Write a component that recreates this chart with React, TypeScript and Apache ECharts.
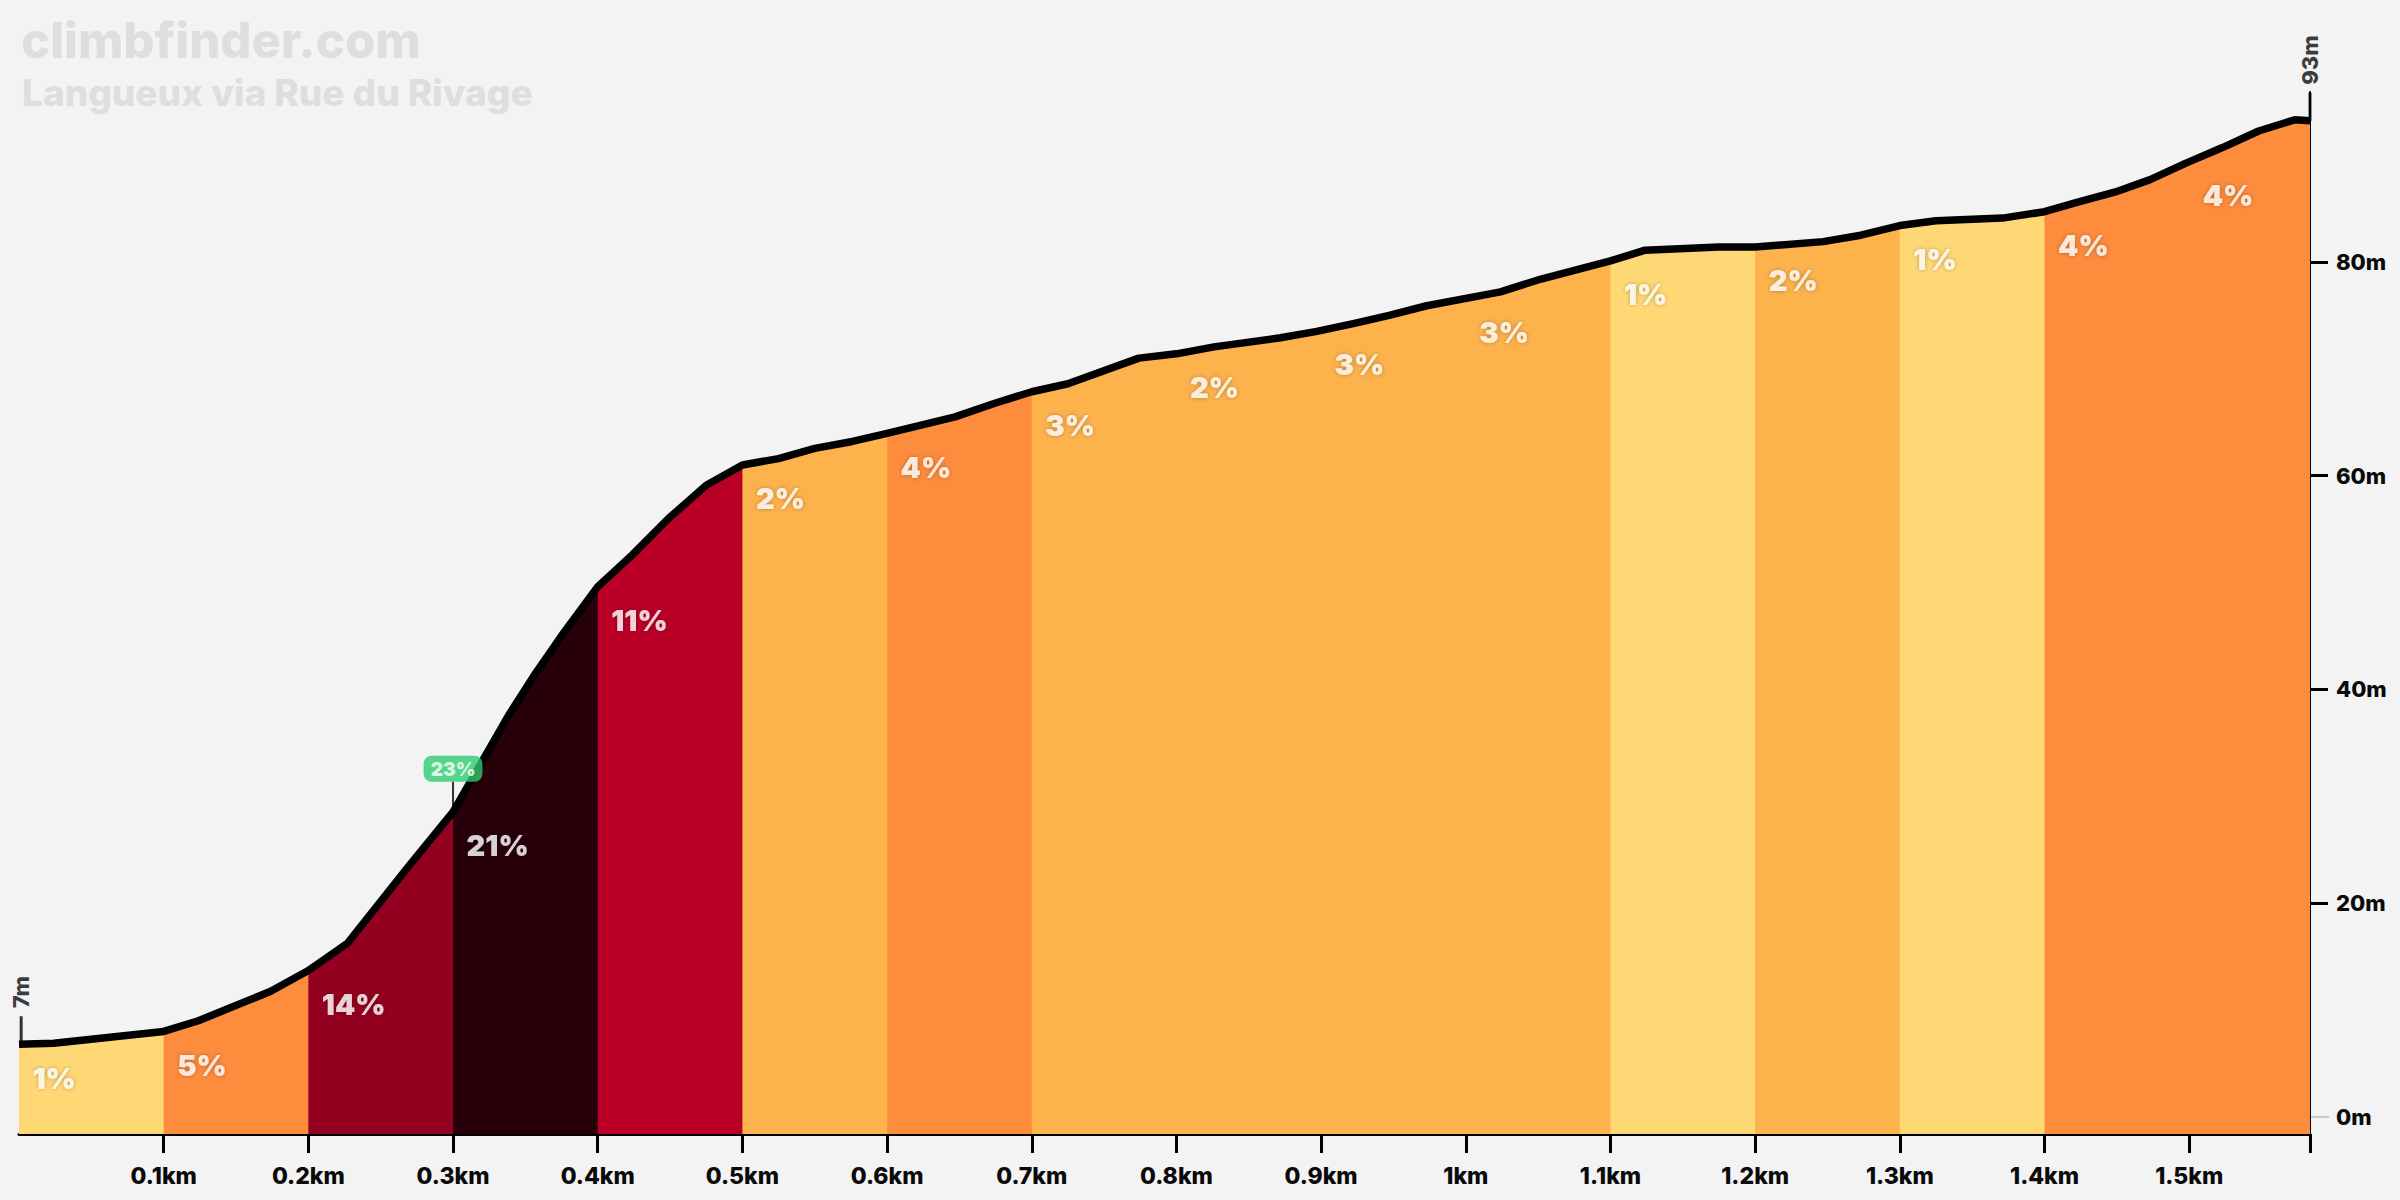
import React, { useEffect, useRef } from "react";
import * as echarts from "echarts";

// Elevation profile: distance along the climb (km) and altitude (m)
const profileKm = [
  0, 0.024, 0.1, 0.124, 0.174, 0.2, 0.227, 0.269, 0.3, 0.339, 0.357, 0.377,
  0.4, 0.424, 0.449, 0.475, 0.5, 0.525, 0.55, 0.576, 0.6, 0.647, 0.675, 0.7,
  0.725, 0.774, 0.8, 0.826, 0.872, 0.897, 0.923, 0.947, 0.973, 1.024, 1.052,
  1.1, 1.124, 1.175, 1.2, 1.247, 1.273, 1.3, 1.325, 1.371, 1.4, 1.423, 1.449,
  1.473, 1.497, 1.523, 1.548, 1.573, 1.5835,
];
const profileElev = [
  6.8, 6.9, 8.0, 9.0, 11.75, 13.7, 16.25, 23.4, 28.55, 37.7, 41.5, 45.4,
  49.6, 52.6, 56.0, 59.1, 61.0, 61.6, 62.55, 63.2, 63.95, 65.5, 66.8, 67.85,
  68.6, 71.0, 71.4, 72.05, 72.9, 73.5, 74.25, 75.0, 75.9, 77.2, 78.4,
  80.1, 81.1, 81.4, 81.4, 81.9, 82.5, 83.4, 83.85, 84.1, 84.7, 85.6, 86.55,
  87.7, 89.2, 90.7, 92.25, 93.3, 93.2,
];

// Average gradient of each 100 m section
const sectionStartKm = [0, 0.1, 0.2, 0.3, 0.4, 0.5, 0.6, 0.7, 0.8, 0.9, 1.0, 1.1, 1.2, 1.3, 1.4, 1.5];
const sectionGrade = [1, 5, 14, 21, 11, 2, 4, 3, 2, 3, 3, 1, 2, 1, 4, 4];

// Steepest point of the climb
const steepestKm = 0.3;
const steepestGrade = 23;

// Axis ticks
const xTickKm = [0.1, 0.2, 0.3, 0.4, 0.5, 0.6, 0.7, 0.8, 0.9, 1.0, 1.1, 1.2, 1.3, 1.4, 1.5];
const yTickM = [0, 20, 40, 60, 80];

const titleText = "climbfinder.com";
const subtitleText = "Langueux via Rue du Rivage";

const FONT = "Inter, 'Noto Sans', sans-serif";
const Y_MIN = -1.6;
const Y_MAX = 95.9;

function gradeColor(g: number): string {
  if (g <= 1) return "#FFD876";
  if (g <= 3) return "#FDB24C";
  if (g <= 7) return "#FD8C3D";
  if (g <= 12) return "#BA0027";
  if (g <= 17) return "#94001F";
  return "#27000A";
}

function elevAt(km: number): number {
  for (let i = 0; i < profileKm.length - 1; i++) {
    const a = profileKm[i];
    const b = profileKm[i + 1];
    if (km >= a && km <= b) {
      const t = b === a ? 0 : (km - a) / (b - a);
      return profileElev[i] + t * (profileElev[i + 1] - profileElev[i]);
    }
  }
  return profileElev[profileElev.length - 1];
}

function sectionPoints(a: number, b: number): number[][] {
  const pts: number[][] = [[a, elevAt(a)]];
  profileKm.forEach((k, i) => {
    if (k > a && k < b) pts.push([k, profileElev[i]]);
  });
  pts.push([b, elevAt(b)]);
  return pts;
}

export default function App() {
  const ref = useRef<HTMLDivElement>(null);

  useEffect(() => {
    if (!ref.current) return;
    const chart = echarts.init(ref.current, undefined, { renderer: "svg" });

    const totalKm = profileKm[profileKm.length - 1];
    const startElev = profileElev[0];
    const endElev = profileElev[profileElev.length - 1];

    // merge neighbouring sections that share a colour, so no seams appear
    const bands: { from: number; to: number; color: string }[] = [];
    sectionStartKm.forEach((s, i) => {
      const e = i < sectionStartKm.length - 1 ? sectionStartKm[i + 1] : totalKm;
      const color = gradeColor(sectionGrade[i]);
      const last = bands[bands.length - 1];
      if (last && last.color === color) last.to = e;
      else bands.push({ from: s, to: e, color });
    });

    const bandSeries = bands.map((b, i) => {
      // each band reaches a hair into the next one, which is painted over it
      const to = i < bands.length - 1 ? b.to + 0.002 : b.to;
      return {
        type: "line",
        data: sectionPoints(b.from, to),
        symbol: "none",
        silent: true,
        z: 1,
        lineStyle: { width: 0 },
        areaStyle: { color: b.color, opacity: 1, origin: "start" },
      };
    });

    const option: any = {
      animation: false,
      backgroundColor: "#F3F3F3",
      title: [
        {
          text: titleText,
          left: 16,
          top: 12,
          textStyle: { fontFamily: FONT, fontSize: 49, lineHeight: 46, fontWeight: 800, color: "#DEDEDE" },
        },
        {
          text: subtitleText,
          left: 17,
          top: 69,
          textStyle: { fontFamily: FONT, fontSize: 37, lineHeight: 37, fontWeight: 800, color: "#DEDEDE" },
        },
      ],
      grid: { left: 19, right: 90, top: 92, bottom: 66 },
      xAxis: {
        type: "value",
        min: 0,
        max: totalKm,
        axisLine: { show: true, onZero: false, lineStyle: { color: "#000", width: 3 } },
        axisTick: {
          show: true,
          customValues: [...xTickKm, totalKm],
          length: 19,
          lineStyle: { color: "#000", width: 3 },
        },
        axisLabel: {
          customValues: xTickKm,
          formatter: (v: number) => `${Number(v.toFixed(1))}km`,
          margin: 30,
          fontFamily: FONT,
          fontSize: 23,
          fontWeight: 800,
          color: "#0A0A0A",
        },
        splitLine: { show: false },
      },
      yAxis: {
        type: "value",
        position: "right",
        min: Y_MIN,
        max: Y_MAX,
        axisLine: { show: true, onZero: false, lineStyle: { color: "#000", width: 2 } },
        axisTick: {
          show: true,
          customValues: yTickM.filter((v) => v > 0),
          length: 18,
          lineStyle: { color: "#000", width: 3 },
        },
        axisLabel: {
          customValues: yTickM,
          formatter: (v: number) => `${v}m`,
          margin: 26,
          fontFamily: FONT,
          fontSize: 22,
          fontWeight: 800,
          color: "#0A0A0A",
        },
        splitLine: { show: false },
      },
      series: [
        ...bandSeries,
        {
          type: "line",
          data: profileKm.map((k, i) => [k, profileElev[i]]),
          symbol: "none",
          silent: true,
          z: 3,
          lineStyle: { color: "#000", width: 7.5, join: "round" },
        },
        {
          // light sea-level tick on the altitude axis
          type: "scatter",
          z: 2,
          silent: true,
          symbol: "rect",
          symbolSize: [18, 2],
          symbolOffset: [10, 0],
          itemStyle: { color: "#BBBBBB" },
          data: [[totalKm, yTickM[0]]],
        },
        {
          // grade of each section
          type: "scatter",
          z: 4,
          silent: true,
          symbolSize: 1,
          itemStyle: { color: "rgba(0,0,0,0)" },
          data: sectionStartKm.map((s, i) => [s, elevAt(s), sectionGrade[i]]),
          label: {
            show: true,
            position: [14, 20],
            formatter: (p: any) => `${p.value[2]}%`,
            fontFamily: FONT,
            fontSize: 29,
            fontWeight: 900,
            color: "#fff",
            textShadowColor: "rgba(0,0,0,0.35)",
            textShadowBlur: 4,
          },
        },
        {
          // start and finish altitude markers
          type: "scatter",
          z: 4,
          silent: true,
          symbol: "rect",
          symbolSize: [3, 28],
          symbolOffset: [0, -14],
          itemStyle: { color: "#000" },
          data: [
            { value: [0.0015, startElev], label: { formatter: `${Math.round(startElev)}m` } },
            { value: [totalKm, endElev], label: { formatter: `${Math.round(endElev)}m` } },
          ],
          label: {
            show: true,
            position: "top",
            distance: 8,
            rotate: 90,
            align: "left",
            verticalAlign: "middle",
            fontFamily: FONT,
            fontSize: 22,
            fontWeight: 800,
            color: "#0A0A0A",
          },
        },
        {
          // steepest point badge
          type: "scatter",
          z: 5,
          silent: true,
          symbol: "rect",
          symbolSize: [2, 30],
          symbolOffset: [0, -15],
          itemStyle: { color: "#000" },
          data: [[steepestKm, elevAt(steepestKm), steepestGrade]],
          label: {
            show: true,
            position: "top",
            distance: 0,
            formatter: (p: any) => `${p.value[2]}%`,
            backgroundColor: "#2ECC71",
            borderRadius: 8,
            padding: [4, 7, 3, 7],
            fontFamily: FONT,
            fontSize: 19,
            fontWeight: 900,
            color: "#fff",
          },
        },
      ],
    };

    chart.setOption(option);
    return () => chart.dispose();
  }, []);

  return (
    <div
      ref={ref}
      style={{ position: "fixed", left: 0, top: 0, width: 2400, height: 1200, background: "#F3F3F3" }}
    />
  );
}
